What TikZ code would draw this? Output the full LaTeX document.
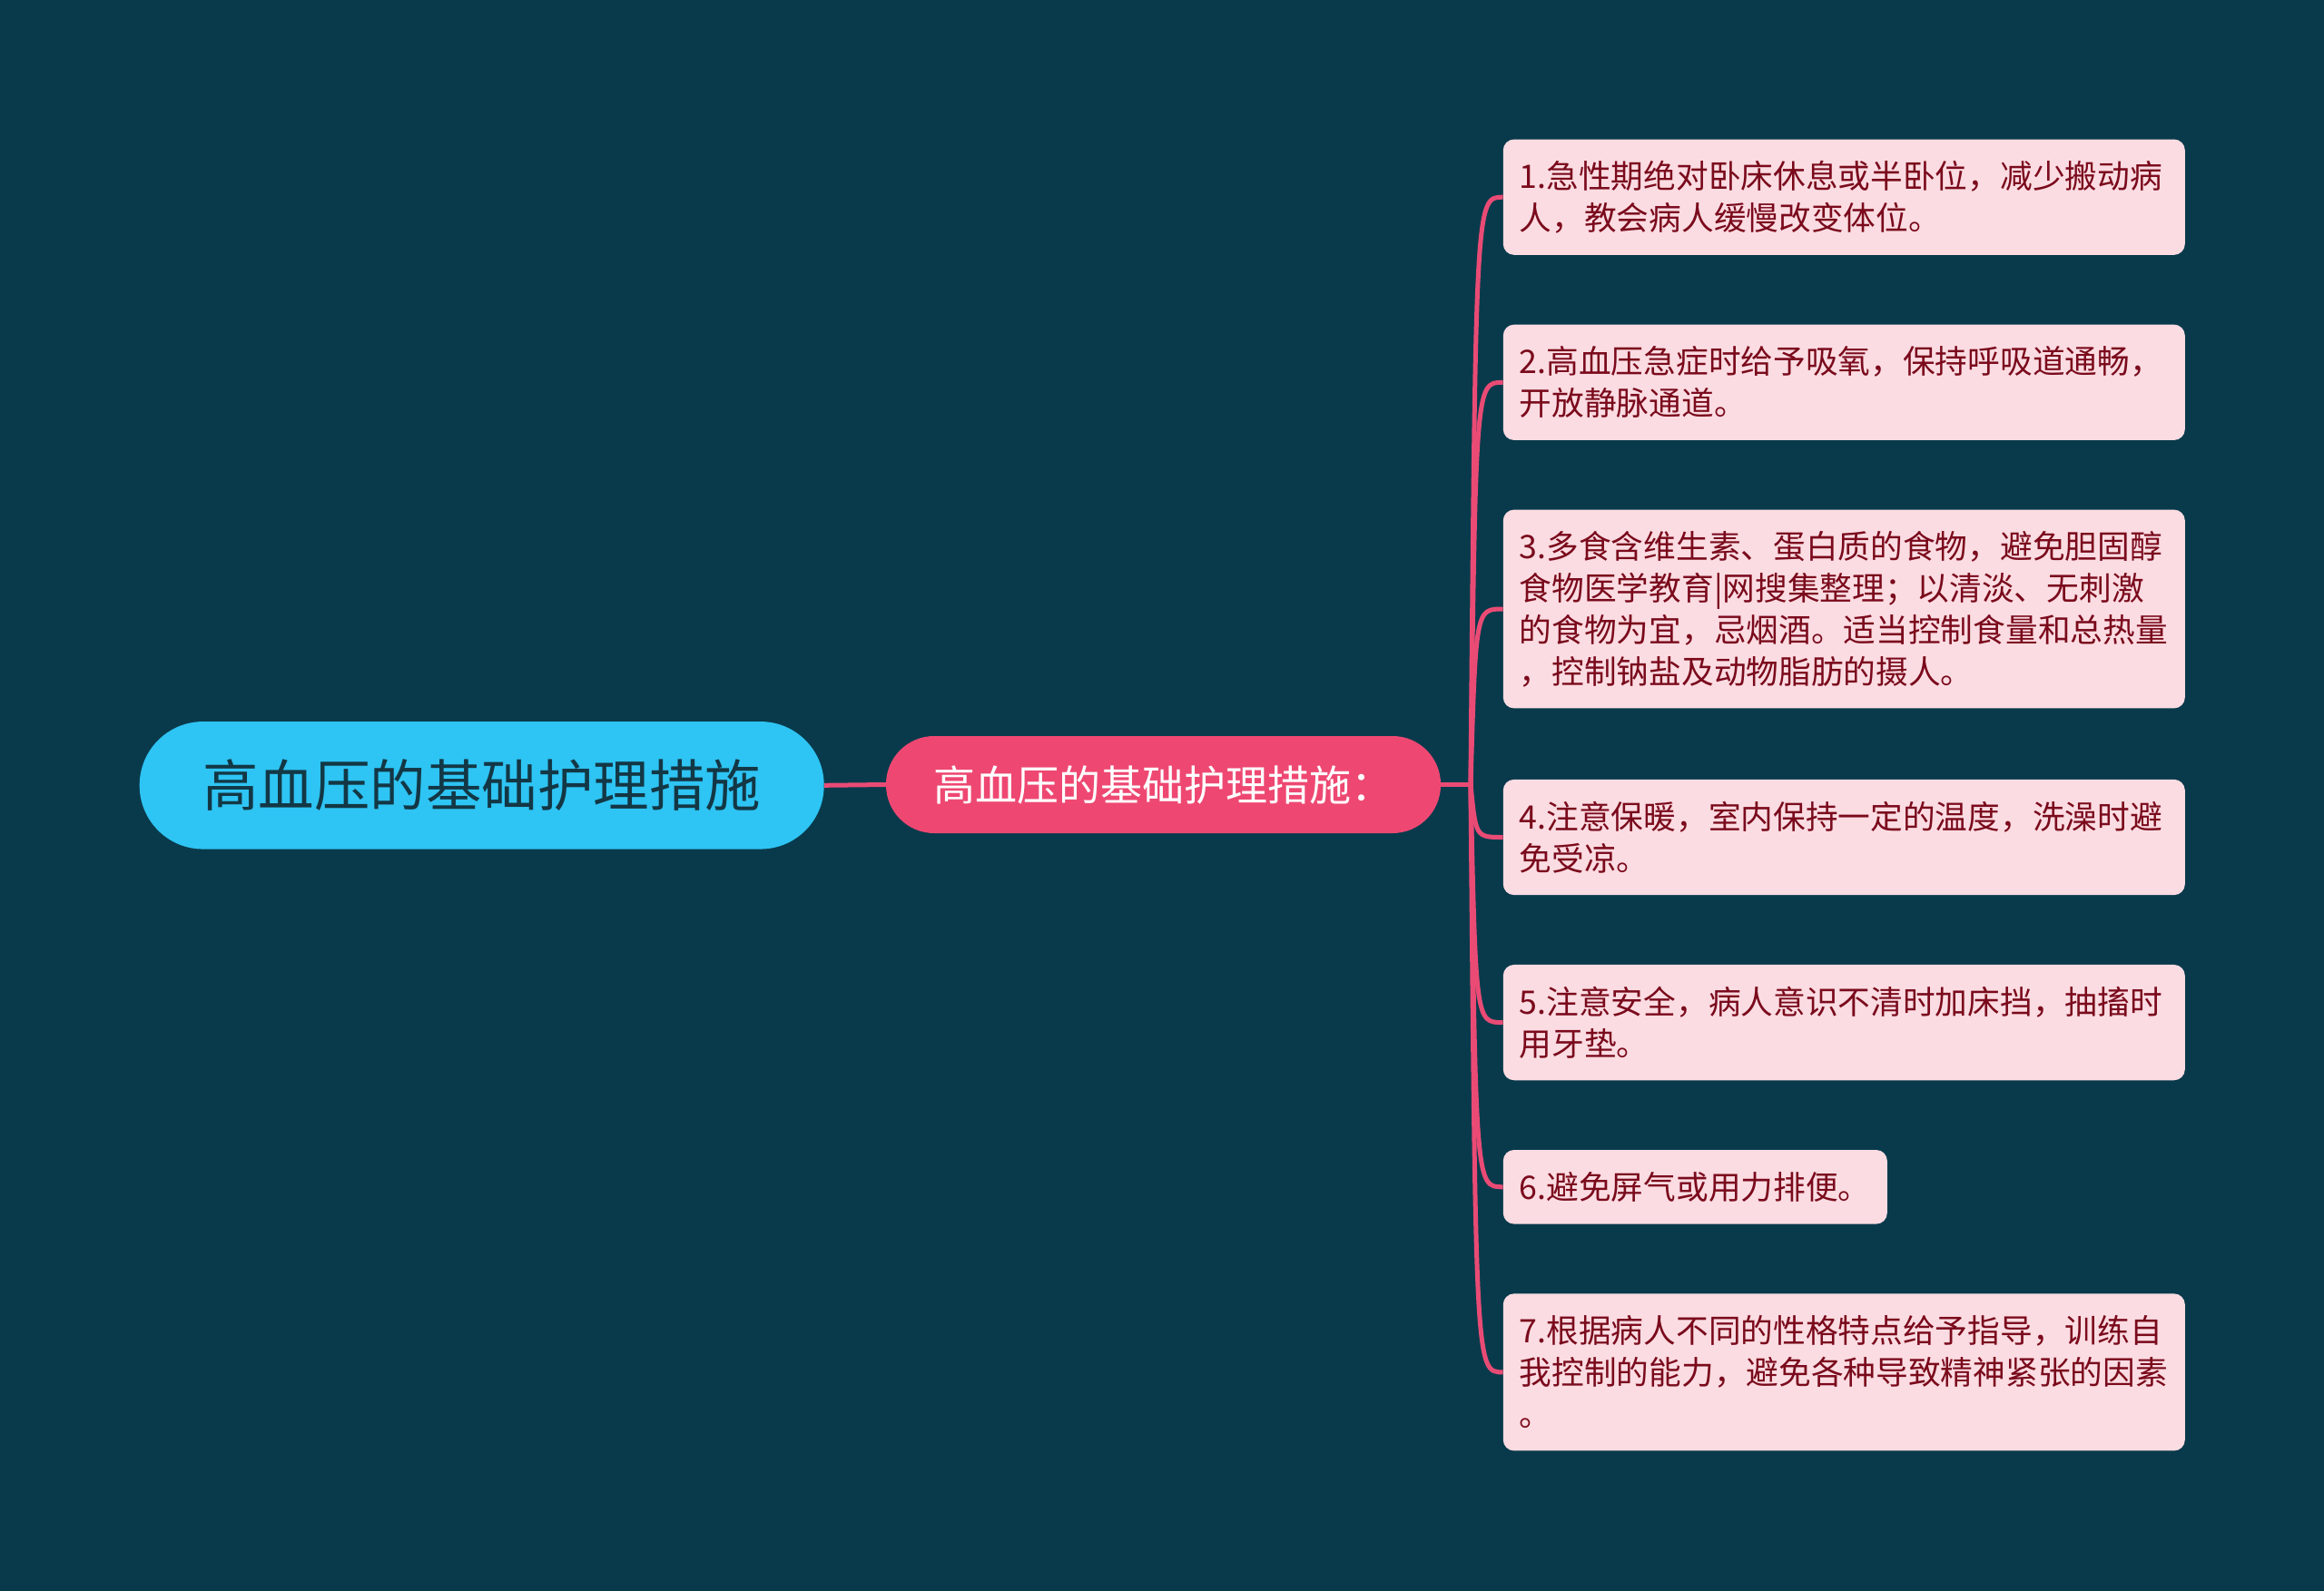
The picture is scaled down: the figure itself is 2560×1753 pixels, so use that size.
\documentclass[tikz,border=0pt]{standalone}
\usepackage{fontspec}
\setmainfont{Noto Sans CJK SC}
\usetikzlibrary{calc}
\definecolor{bg}{HTML}{093A4C}
\definecolor{rootfill}{HTML}{2EC4F3}
\definecolor{roottext}{HTML}{133745}
\definecolor{midfill}{HTML}{EE4872}
\definecolor{linkc}{HTML}{E94B75}
\definecolor{leaffill}{HTML}{FBDCE2}
\definecolor{leaftext}{HTML}{7A0A1C}
\begin{document}
\begin{tikzpicture}[x=1pt,y=-1pt,
  rootbox/.style={rectangle, rounded corners=70pt, fill=rootfill, text=roottext,
    minimum width=754pt, minimum height=140.5pt, inner sep=0pt,
    font=\fontsize{61.5}{72}\selectfont},
  midbox/.style={rectangle, rounded corners=53pt, fill=midfill, text=white,
    minimum width=611pt, minimum height=107pt, inner sep=0pt,
    font=\fontsize{46}{56}\selectfont},
  leafbox/.style={rectangle, rounded corners=12pt, fill=leaffill, anchor=west,
    inner xsep=18pt, inner ysep=0pt, text width=715pt, align=left, text=leaftext,
    font=\fontsize{35.7}{46}\selectfont},
  link/.style={draw=linkc, line width=5pt}
]
\fill[bg] (0,0) rectangle (2560,1753);
\useasboundingbox (0,0) rectangle (2560,1753);

\node[rootbox] (root) at (530.7,865.3) {高血压的基础护理措施};
\node[midbox] (mid) at (1281.5,864.5) {高血压的基础护理措施：};

\node[leafbox, minimum height=127.3pt] (l1) at (1655.6,217.2)
  {1.急性期绝对卧床休息或半卧位，减少搬动病\\人，教会病人缓慢改变体位。};
\node[leafbox, minimum height=127.3pt] (l2) at (1655.6,421.3)
  {2.高血压急症时给予吸氧，保持呼吸道通畅，\\开放静脉通道。};
\node[leafbox, minimum height=218.8pt] (l3) at (1655.6,671.0)
  {3.多食含维生素、蛋白质的食物，避免胆固醇\\食物医学教育|网搜集整理；以清淡、无刺激\\的食物为宜，忌烟酒。适当控制食量和总热量\\，控制钠盐及动物脂肪的摄人。};
\node[leafbox, minimum height=127.3pt] (l4) at (1655.6,922.5)
  {4.注意保暖，室内保持一定的温度，洗澡时避\\免受凉。};
\node[leafbox, minimum height=127.3pt] (l5) at (1655.6,1126.6)
  {5.注意安全，病人意识不清时加床挡，抽搐时\\用牙垫。};
\node[leafbox, text width=387pt, minimum height=81.6pt] (l6) at (1655.6,1307.8)
  {6.避免屏气或用力排便。};
\node[leafbox, minimum height=173.1pt] (l7) at (1655.6,1511.9)
  {7.根据病人不同的性格特点给予指导，训练自\\我控制的能力，避免各种导致精神紧张的因素\\。};

\coordinate (br) at (1620,864.5);
\draw[link] (root.east) -- (mid.west);
\draw[link] (mid.east) -- (br);
\foreach \l in {l1,l2,l3,l4,l5,l6,l7}{
  \draw[link] (br) .. controls ($(\l.west)+(-30,0)$) .. (\l.west);
}
\end{tikzpicture}
\end{document}
